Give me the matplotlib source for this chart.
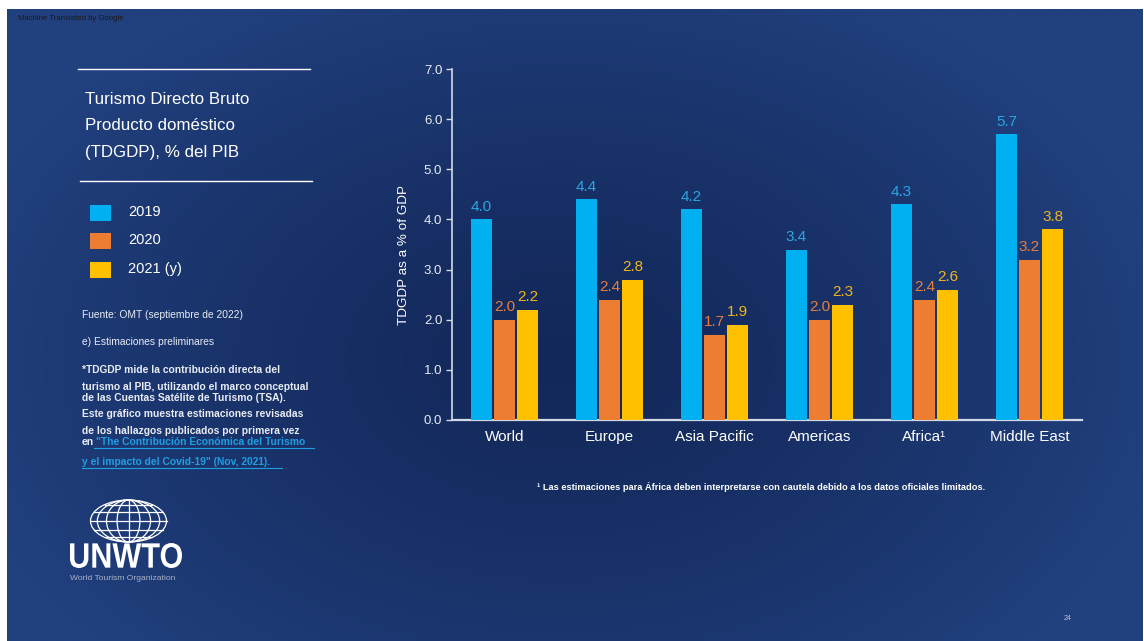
import numpy as np
import matplotlib
matplotlib.use("Agg")
import matplotlib.pyplot as plt
from matplotlib.textpath import TextPath
from matplotlib.patches import PathPatch, Ellipse, Rectangle
from matplotlib.font_manager import FontProperties
from matplotlib.transforms import Affine2D

plt.rcParams['font.family'] = ['Liberation Sans', 'DejaVu Sans']

# ---------------- data ----------------
categories = ["World", "Europe", "Asia Pacific", "Americas", "Africa\u00b9", "Middle East"]
series_names = ["2019", "2020", "2021 (y)"]
v2019 = [4.0, 4.4, 4.2, 3.4, 4.3, 5.7]
v2020 = [2.0, 2.4, 1.7, 2.0, 2.4, 3.2]
v2021 = [2.2, 2.8, 1.9, 2.3, 2.6, 3.8]
yticks = [0.0, 1.0, 2.0, 3.0, 4.0, 5.0, 6.0, 7.0]

bar_colors = ["#00b0f0", "#ed7d31", "#ffc000"]
label_colors = ["#2aa6e2", "#e57f3c", "#efb61c"]

W, H = 1144, 641
fig = plt.figure(figsize=(W / 100, H / 100), dpi=100, facecolor="white")

# ---------------- background slide ----------------
bg = fig.add_axes([0, 0, 1, 1])
bg.set_xlim(0, W)
bg.set_ylim(H, 0)
bg.axis("off")

gx, gy = np.meshgrid(np.linspace(7, 1143, 400), np.linspace(9, 641, 230))
d = np.sqrt(((gx - 560) / 620) ** 2 + ((gy - 360) / 420) ** 2)
t = np.clip(d, 0, 1) ** 1.3
dark = np.array([0x13, 0x28, 0x5a]) / 255
light = np.array([0x21, 0x40, 0x7e]) / 255
img = dark[None, None, :] + (light - dark)[None, None, :] * t[..., None]
bg.imshow(img, extent=(7, 1143, 641, 9), aspect="auto", interpolation="bilinear", zorder=0)

bg.text(18, 18, "Machine Translated by Google", fontsize=5.6, color="#1a1a1a",
        ha="left", va="center", zorder=2)

# title block
bg.plot([78, 310], [68.5, 68.5], color="white", lw=1.0, zorder=2)
bg.plot([80, 312], [181, 181], color="white", lw=1.0, zorder=2)
for txt, yy in zip(["Turismo Directo Bruto", "Producto dom\u00e9stico", "(TDGDP), % del PIB"],
                   [99.5, 126, 152]):
    bg.text(85, yy, txt, fontsize=12.2, color="white", ha="left", va="center", zorder=2)

# legend
for i, (name, yy) in enumerate(zip(series_names, [212.5, 240.5, 269.5])):
    bg.add_patch(Rectangle((90, yy - 8), 21, 16, facecolor=bar_colors[i],
                           edgecolor="none", zorder=2))
    bg.text(128, yy, name, fontsize=10.5, color="white", ha="left", va="center", zorder=2)

# notes
notes = [
    ("Fuente: OMT (septiembre de 2022)", 315, "normal", 7.4),
    ("e) Estimaciones preliminares", 341.7, "normal", 7.4),
    ("*TDGDP mide la contribuci\u00f3n directa del", 370, "bold", 7.4),
    ("turismo al PIB, utilizando el marco conceptual", 386.7, "bold", 7.4),
    ("de las Cuentas Sat\u00e9lite de Turismo (TSA).", 397.7, "bold", 7.4),
    ("Este gr\u00e1fico muestra estimaciones revisadas", 414.3, "bold", 7.4),
    ("de los hallazgos publicados por primera vez", 431, "bold", 7.4),
]
for txt, yy, wt, fs in notes:
    bg.text(82, yy, txt, fontsize=fs, color="#e8ecf4", ha="left", va="center",
            weight=wt, zorder=2)
link_col = "#1f9ee2"
bg.text(82, 441.7, "en", fontsize=7.4, color="#e8ecf4", ha="left", va="center",
        weight="bold", zorder=2)
bg.text(96, 441.7, "\"The Contribuci\u00f3n Econ\u00f3mica del Turismo", fontsize=7.4,
        color=link_col, ha="left", va="center", weight="bold", zorder=2)
bg.plot([94, 314], [448, 448], color=link_col, lw=0.8, zorder=2)
bg.text(82, 461.7, "y el impacto del Covid-19\" (Nov, 2021).", fontsize=7.4,
        color=link_col, ha="left", va="center", weight="bold", zorder=2)
bg.plot([82, 282], [467.5, 467.5], color=link_col, lw=0.8, zorder=2)

# logo: globe
cx, cy, rx, ry = 128.5, 521, 38, 21
gl = dict(facecolor="none", edgecolor="white", lw=0.9, zorder=2)
bg.add_patch(Ellipse((cx, cy), 2 * rx, 2 * ry, **gl))
for k in [0.3, 0.58, 0.82]:
    bg.add_patch(Ellipse((cx, cy), 2 * rx * k, 2 * ry, **gl))
bg.plot([cx, cx], [cy - ry, cy + ry], color="white", lw=0.9, zorder=2)
for f in [-0.78, -0.42, 0.0, 0.42, 0.78]:
    half = rx * np.sqrt(1 - f ** 2)
    bg.plot([cx - half, cx + half], [cy + f * ry, cy + f * ry], color="white", lw=0.9, zorder=2)

# logo: UNWTO wordmark
tp = TextPath((0, 0), "UNWTO", size=1, prop=FontProperties(family="Liberation Sans", weight="bold"))
ext = tp.get_extents()
sx = 112 / ext.width
sy = 25 / ext.height
tr = Affine2D().translate(-ext.x0, -ext.y0).scale(sx, -sy).translate(70, 568) + bg.transData
bg.add_patch(PathPatch(tp, facecolor="white", edgecolor="none", transform=tr, zorder=2))
bg.text(70, 579, "World Tourism Organization", fontsize=6.1, color="#aab3c6",
        ha="left", va="center", zorder=2)

# footnote & page number
bg.text(761, 487, "\u00b9 Las estimaciones para \u00c1frica deben interpretarse con cautela debido a los datos oficiales limitados.",
        fontsize=6.65, color="white", ha="center", va="center", weight="bold", zorder=2)
bg.text(1068, 619, "24", fontsize=5, color="#c0c8d8", ha="center", va="center", zorder=2)

# ---------------- chart ----------------
ax = fig.add_axes([452 / W, (H - 420) / H, 630 / W, (420 - 69) / H])
ax.set_facecolor("none")
x = np.arange(len(categories))
bw = 0.2
offsets = [-0.22, 0.0, 0.22]
for vals, off, bc, lc in zip([v2019, v2020, v2021], offsets, bar_colors, label_colors):
    bars = ax.bar(x + off, vals, width=bw, color=bc, zorder=3)
    for b, v in zip(bars, vals):
        ax.annotate(f"{v:.1f}", (b.get_x() + b.get_width() / 2, v), xytext=(0, 4),
                    textcoords="offset points", ha="center", va="bottom",
                    fontsize=11, color=lc, zorder=4)

ax.set_xlim(-0.5, len(categories) - 0.5)
ax.set_ylim(0, 7)
ax.set_yticks(yticks)
ax.set_yticklabels([f"{v:.1f}" for v in yticks])
ax.set_xticks(x)
ax.set_xticklabels(categories)
axis_col = "#d3d9e6"
for s in ["top", "right"]:
    ax.spines[s].set_visible(False)
ax.spines["left"].set_color(axis_col)
ax.spines["left"].set_linewidth(1.2)
ax.spines["bottom"].set_color(axis_col)
ax.spines["bottom"].set_linewidth(1.6)
ax.tick_params(axis="y", direction="out", length=4, width=1, color=axis_col,
               labelcolor="#e8ebf2", labelsize=9.5, pad=3)
ax.tick_params(axis="x", length=0, labelcolor="white", labelsize=11, pad=7)
lab = ax.set_ylabel("TDGDP as a % of GDP", color="white", fontsize=9.7)
ax.yaxis.set_label_coords(-0.076, 0.47)
lab.set_va("center")

fig.savefig("out.png", dpi=100, facecolor="white")
